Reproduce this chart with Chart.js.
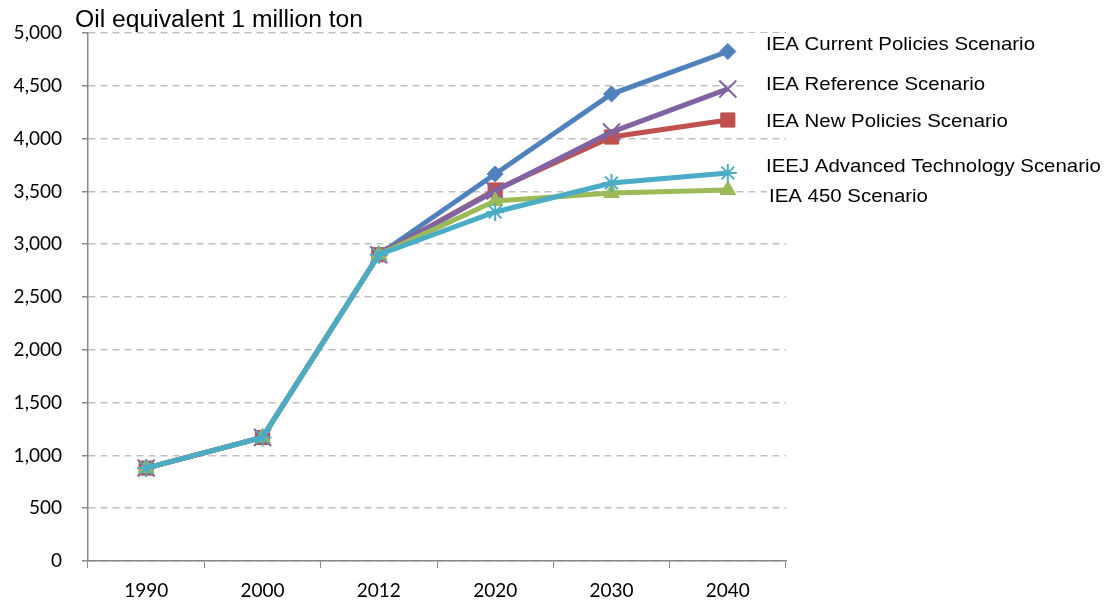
<!DOCTYPE html>
<html>
<head>
<meta charset="utf-8">
<script src="https://cdn.jsdelivr.net/npm/chart.js@4/dist/chart.umd.min.js"></script>
<style>
  html, body { margin: 0; padding: 0; background: #fff; }
  #wrap { width: 1112px; height: 603px; position: relative; }
</style>
</head>
<body>
<div id="wrap"><canvas id="chart"></canvas></div>
<script>
const years = ['1990', '2000', '2012', '2020', '2030', '2040'];

const currentPolicies = [880, 1170, 2900, 3665, 4422, 4825];
const referenceScen   = [880, 1170, 2900, 3504, 4062, 4470];
const newPolicies     = [880, 1170, 2900, 3513, 4015, 4176];
const ieejAdvanced    = [880, 1170, 2900, 3305, 3580, 3674];
const iea450          = [880, 1170, 2900, 3409, 3485, 3513];

const yTicks = [0, 500, 1000, 1500, 2000, 2500, 3000, 3500, 4000, 4500, 5000];

// text beside each line end: [label, y centre, text x, box left]
const sideLabels = [
  ['IEA Current Policies Scenario', 45, 766, 747],
  ['IEA Reference Scenario', 85, 766, 747],
  ['IEA New Policies Scenario', 122, 766, 747],
  ['IEEJ Advanced Technology Scenario', 167, 766, 747],
  ['IEA 450 Scenario', 197, 769, 767]
];

// draws text squeezed/stretched to a given width
function fitText(ctx, text, x, y, width) {
  const w = ctx.measureText(text).width;
  ctx.save();
  ctx.translate(x, y);
  ctx.scale(width / w, 1);
  ctx.fillText(text, 0, 0);
  ctx.restore();
}

const sideText = {
  id: 'sideText',
  afterDraw(chart) {
    const ctx = chart.ctx;
    ctx.save();
    ctx.font = '19px "Liberation Sans", Arial, sans-serif';
    ctx.textBaseline = 'middle';
    ctx.fillStyle = '#fff';
    sideLabels.forEach(([t, y, x, left]) => {
      ctx.fillRect(left, y - 12, 1112 - left, 24);
    });
    ctx.fillStyle = '#000';
    const k = 269 / ctx.measureText(sideLabels[0][0]).width;
    sideLabels.forEach(([t, y, x]) => {
      fitText(ctx, t, x, y, ctx.measureText(t).width * k);
    });
    ctx.font = '23px "Liberation Sans", Arial, sans-serif';
    ctx.textBaseline = 'alphabetic';
    fitText(ctx, 'Oil equivalent 1 million ton', 75, 27, 288);
    ctx.restore();
  }
};

function series(label, data, color, style, radius, pbw) {
  return {
    label, data,
    borderColor: color,
    backgroundColor: color,
    borderWidth: 5,
    pointStyle: style,
    pointRadius: radius,
    pointBorderColor: color,
    pointBackgroundColor: color,
    pointBorderWidth: pbw,
    tension: 0
  };
}

new Chart(document.getElementById('chart'), {
  type: 'line',
  data: {
    labels: years,
    // first dataset ends up on top
    datasets: [
      series('IEEJ Advanced Technology Scenario', ieejAdvanced, '#4BACC6', 'star', 9, 2),
      series('IEA 450 Scenario', iea450, '#9BBB59', 'triangle', 9, 1),
      series('IEA Reference Scenario', referenceScen, '#8064A2', 'crossRot', 12, 2),
      series('IEA New Policies Scenario', newPolicies, '#C0504D', 'rect', 10, 1),
      series('IEA Current Policies Scenario', currentPolicies, '#4F81BD', 'rectRot', 8, 1)
    ]
  },
  options: {
    responsive: true,
    maintainAspectRatio: false,
    animation: false,
    layout: { padding: { top: 33, right: 326, left: 0, bottom: 0 } },
    plugins: { legend: { display: false }, tooltip: { enabled: false } },
    scales: {
      x: {
        offset: true,
        grid: {
          offset: true,
          drawOnChartArea: false,
          drawTicks: true,
          tickLength: 7,
          tickColor: '#888'
        },
        border: { color: '#888', width: 1.5 },
        ticks: {
          color: '#000',
          padding: 11,
          font: { family: 'Lato, "Open Sans", sans-serif', size: 19 }
        },
        afterFit(s) { s.height = 42; }
      },
      y: {
        min: 0,
        max: 5000,
        afterBuildTicks(s) { s.ticks = yTicks.map(v => ({ value: v })); },
        grid: {
          color: '#BFBFBF',
          lineWidth: 1.5,
          tickLength: 6,
          tickColor: '#888',
          tickBorderDash: [],
          drawTicks: true
        },
        border: { color: '#888', width: 1.5, dash: [7, 5] },
        ticks: {
          color: '#000',
          padding: 20,
          font: { family: 'Lato, "Open Sans", sans-serif', size: 19 },
          callback: v => v.toLocaleString('en-US')
        },
        afterFit(s) { s.width = 88; }
      }
    }
  },
  plugins: [sideText]
});
</script>
</body>
</html>
